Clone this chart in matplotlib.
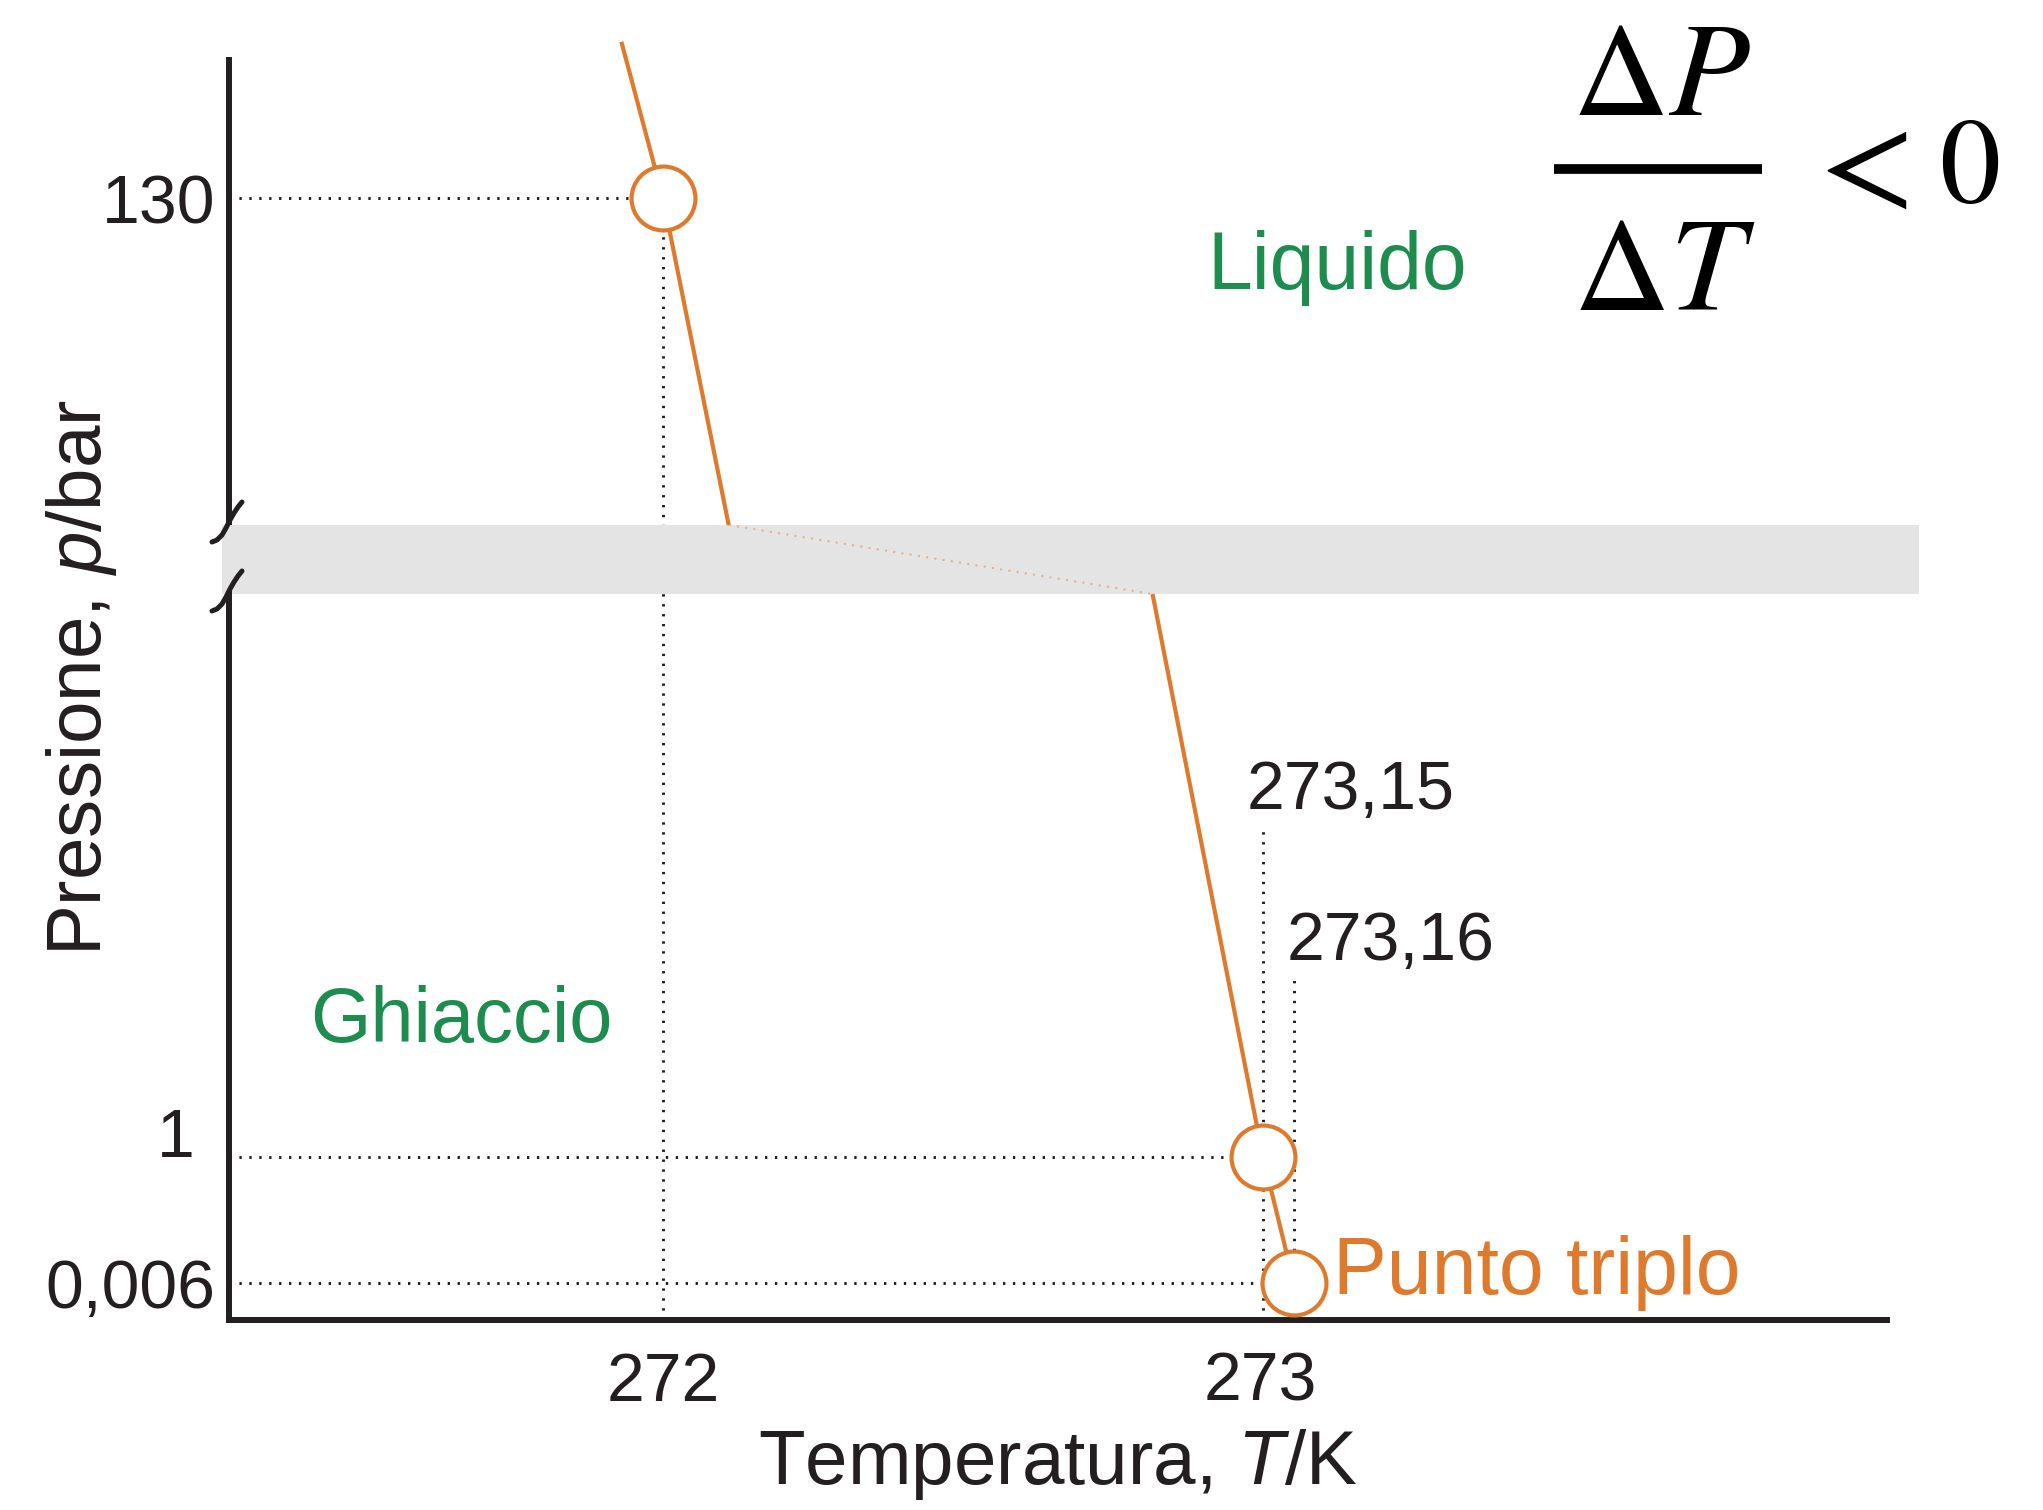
import numpy as np
import matplotlib
matplotlib.use('Agg')
import matplotlib.pyplot as plt
import matplotlib.transforms as mtransforms
from matplotlib.lines import Line2D

plt.rcParams['font.family'] = ['Liberation Sans', 'DejaVu Sans']
plt.rcParams['mathtext.fontset'] = 'custom'
plt.rcParams['mathtext.rm'] = 'Liberation Sans'
plt.rcParams['mathtext.it'] = 'Liberation Sans:italic'

# ---- data ----
T_ticks = [272, 273]
T_tick_labels = ['272', '273']
P_ticks = [0.006, 1, 130]
P_tick_labels = ['0,006', '1', '130']

# marked points on the melting curve
T_points = [272.0, 273.15, 273.16]
P_points = [130.0, 1.0, 0.006]

# melting curve (the segment 100 -> 5 bar crosses the axis break)
curve_T = [271.93, 272.0, 272.11, 272.82, 273.15, 273.16]
curve_P = [144.4, 130.0, 100.0, 5.0, 1.0, 0.006]

P_break = [5.0, 100.0]

T_guides = [273.15, 273.16]
T_guide_tops = [3.34, 2.29]
T_guide_labels = ['273,15', '273,16']

# ---- schematic (not to scale) axes: value -> pixels from the axes origin ----
T_anchor = [271.27, 272.0, 273.0, 273.15, 273.16, 274.16]
T_pix = [0, 434, 1031, 1034, 1065, 1658]
P_anchor = [0, 0.006, 1, 5, 100, 130, 143]
P_pix = [0, 37, 163, 726, 795, 1122, 1263]


def piecewise(vals, src, dst):
    v = np.array(vals, dtype=float)
    out = np.interp(v, src, dst)
    k0 = (dst[1] - dst[0]) / (src[1] - src[0])
    k1 = (dst[-1] - dst[-2]) / (src[-1] - src[-2])
    out = np.where(v < src[0], dst[0] + (v - src[0]) * k0, out)
    out = np.where(v > src[-1], dst[-1] + (v - src[-1]) * k1, out)
    return out


orange = '#dd7a2e'
green = '#1e8c4e'
dark = '#231f20'

fig = plt.figure(figsize=(20.43, 15.10), dpi=100)
ax = fig.add_axes([229 / 2043, 1 - 1320 / 1510, 1658 / 2043, 1263 / 1510])
ax.set_xscale('function', functions=(lambda v: piecewise(v, T_anchor, T_pix),
                                     lambda v: piecewise(v, T_pix, T_anchor)))
ax.set_yscale('function', functions=(lambda v: piecewise(v, P_anchor, P_pix),
                                     lambda v: piecewise(v, P_pix, P_anchor)))
ax.set_xlim(T_anchor[0], T_anchor[-1])
ax.set_ylim(P_anchor[0], P_anchor[-1])
xmin = ax.get_xlim()[0]

# dotted guide lines
dot = dict(color='#1e1e1e', lw=2.1, linestyle=(0, (0.8, 2.6)), zorder=1)
for t, p in zip(T_points, P_points):
    ax.plot([xmin, t], [p, p], **dot)
ax.plot([T_points[0], T_points[0]], [0, P_points[0]], **dot)
for t, top in zip(T_guides, T_guide_tops):
    ax.plot([t, t], [0, top], **dot)

# axis break band
band = ax.axhspan(P_break[0], P_break[1], xmin=-0.0045, xmax=1.019,
                  color='#e4e4e4', lw=0, zorder=2)
band.set_clip_on(False)

# melting curve
ax.plot(curve_T[:3], curve_P[:3], color=orange, lw=3.0, zorder=4,
        clip_on=False, solid_capstyle='butt')
ax.plot(curve_T[3:], curve_P[3:], color=orange, lw=3.0, zorder=4,
        solid_capstyle='butt')
ax.plot(curve_T[2:4], curve_P[2:4], color='#e8b08a', lw=1.5,
        linestyle=(0, (1, 3)), zorder=3)
ax.plot(T_points, P_points, 'o', ms=46, mfc='white', mec=orange, mew=3.0,
        zorder=5, clip_on=False)

# spines
for s in ['top', 'right', 'left']:
    ax.spines[s].set_visible(False)
ax.spines['bottom'].set_linewidth(4.3)
ax.spines['bottom'].set_color(dark)
ytr = ax.get_yaxis_transform()
ax.plot([0, 0], [0, P_break[0]], transform=ytr, color=dark, lw=4.3,
        clip_on=False, solid_capstyle='projecting', zorder=6)
ax.plot([0, 0], [P_break[1], ax.get_ylim()[1]], transform=ytr, color=dark,
        lw=4.3, clip_on=False, solid_capstyle='butt', zorder=6)
# break marks, offsets in pixels around the spine end
mark = np.array([[-17, -17], [-12, -15], [-7, -10], [-3, -3], [1, 5],
                 [5, 12], [9, 18], [13, 23]]) / 100.0
for p in P_break:
    tr = fig.dpi_scale_trans + mtransforms.ScaledTranslation(0, p, ytr)
    ax.plot(mark[:, 0], mark[:, 1], transform=tr, color=dark, lw=3.6,
            clip_on=False, zorder=6, solid_capstyle='round')

# ticks
ax.set_xticks(T_ticks, T_tick_labels)
ax.set_yticks(P_ticks, [lab if lab != '1' else '' for lab in P_tick_labels])
ax.minorticks_off()
ax.tick_params(axis='x', length=0, pad=22, labelsize=49, labelcolor=dark)
ax.tick_params(axis='y', length=0, pad=10, labelsize=49, labelcolor=dark)
ax.annotate('1', xy=(0, P_ticks[1]), xycoords=ytr, xytext=(-25, 0),
            textcoords='offset points', ha='right', va='baseline',
            fontsize=49, color=dark)

# guide labels
offsets = [(-12, 13.7), (-5, 10.8)]
for t, top, lab, off in zip(T_guides, T_guide_tops, T_guide_labels, offsets):
    ax.annotate(lab, xy=(t, top), xytext=off, textcoords='offset points',
                ha='left', va='baseline', fontsize=49, color=dark)

# region labels
ax.text(0.049, 0.220, 'Ghiaccio', transform=ax.transAxes, color=green,
        fontsize=56, ha='left', va='baseline')
ax.text(0.590, 0.816, 'Liquido', transform=ax.transAxes, color=green,
        fontsize=58, ha='left', va='baseline')
ax.annotate('Punto triplo', xy=(T_points[2], P_points[2]), xytext=(28, -8),
            textcoords='offset points', ha='left', va='baseline',
            fontsize=58, color=orange)

# axis labels
fig.text(82 / 2043, 1 - 678 / 1510, 'Pressione, $p$/bar', rotation=90,
         ha='center', va='center', fontsize=55, color=dark)
fig.text(1058 / 2043, 1 - 1484 / 1510, 'Temperatura, $T$/K', ha='center',
         va='baseline', fontsize=55, color=dark)

# slope formula, built as a stacked fraction
fmath = dict(math_fontfamily='stix', color='black')
fig.text(1661 / 2043, 1 - 115 / 1510, r'$\Delta P$', ha='center',
         va='baseline', fontsize=96, **fmath)
fig.text(1664 / 2043, 1 - 310 / 1510, r'$\Delta T$', ha='center',
         va='baseline', fontsize=96, **fmath)
fig.add_artist(Line2D([1554 / 2043, 1762 / 2043], [1 - 169 / 1510] * 2,
                      transform=fig.transFigure, color='black', lw=7,
                      solid_capstyle='butt'))
fig.text(1853 / 2043, 1 - 170 / 1510, r'$<$', ha='center', va='center',
         fontsize=100, **fmath)
fig.text(1969 / 2043, 1 - 170 / 1510, r'$0$', ha='center', va='center',
         fontsize=88, **fmath)

plt.savefig('out.png', dpi=100)
